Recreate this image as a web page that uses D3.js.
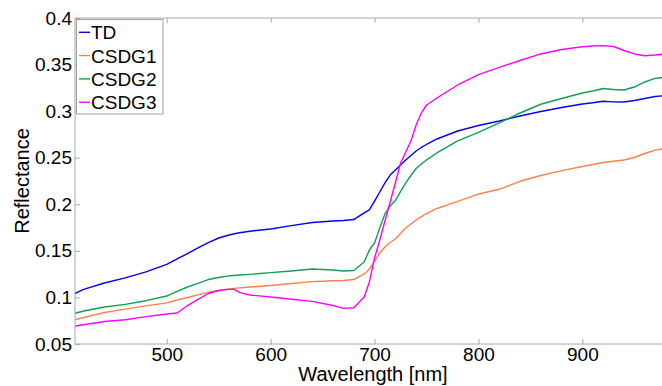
<!DOCTYPE html>
<html>
<head>
<meta charset="utf-8">
<script src="https://cdn.jsdelivr.net/npm/d3@7"></script>
<style>
  html, body { margin: 0; padding: 0; background: #fff; }
  svg { display: block; font-family: "Liberation Sans", Arial, sans-serif; }
</style>
</head>
<body>
<svg id="chart" width="662" height="386"></svg>
<script>
const wavelengths = [412,420,440,460,480,500,510,520,530,540,550,560,565,570,580,600,620,640,660,670,680,690,695,700,705,710,715,720,725,730,735,740,745,750,760,780,800,820,840,860,880,900,910,920,930,940,950,960,970,980];

const TD    = [0.1044,0.1087,0.1155,0.1210,0.1275,0.1354,0.1413,0.1471,0.1531,0.1588,0.1638,0.1670,0.1684,0.1694,0.1711,0.1735,0.1771,0.1804,0.1821,0.1826,0.1836,0.1907,0.1939,0.2035,0.2132,0.2229,0.2314,0.2368,0.2422,0.2476,0.2524,0.2572,0.2610,0.2642,0.2701,0.2787,0.2846,0.2894,0.2948,0.2996,0.3039,0.3077,0.3090,0.3106,0.3100,0.3098,0.3114,0.3136,0.3157,0.3168];
const CSDG1 = [0.0761,0.0785,0.0838,0.0874,0.0909,0.0942,0.0972,0.0999,0.1028,0.1055,0.1074,0.1092,0.1097,0.1103,0.1112,0.1128,0.1150,0.1170,0.1179,0.1181,0.1192,0.1252,0.1305,0.1391,0.1477,0.1541,0.1590,0.1627,0.1686,0.1745,0.1788,0.1831,0.1867,0.1901,0.1955,0.2032,0.2110,0.2161,0.2247,0.2309,0.2361,0.2406,0.2427,0.2449,0.2462,0.2476,0.2502,0.2545,0.2581,0.2599];
const CSDG2 = [0.0830,0.0854,0.0897,0.0926,0.0965,0.1015,0.1064,0.1112,0.1150,0.1192,0.1214,0.1232,0.1236,0.1241,0.1248,0.1266,0.1284,0.1305,0.1295,0.1284,0.1289,0.1380,0.1509,0.1584,0.1745,0.1896,0.1982,0.2041,0.2137,0.2229,0.2309,0.2384,0.2433,0.2476,0.2551,0.2680,0.2773,0.2873,0.2980,0.3074,0.3136,0.3195,0.3216,0.3243,0.3232,0.3227,0.3259,0.3313,0.3351,0.3367];
const CSDG3 = [0.0693,0.0706,0.0742,0.0761,0.0794,0.0822,0.0833,0.0913,0.0978,0.1042,0.1074,0.1087,0.1087,0.1055,0.1026,0.1005,0.0981,0.0958,0.0913,0.0883,0.0889,0.1005,0.1166,0.1423,0.1617,0.1821,0.2025,0.2229,0.2443,0.2561,0.2680,0.2851,0.2980,0.3066,0.3141,0.3281,0.3393,0.3469,0.3544,0.3614,0.3662,0.3692,0.3700,0.3703,0.3694,0.3651,0.3614,0.3595,0.3603,0.3614];

const seriesNames = ["TD","CSDG1","CSDG2","CSDG3"];
const seriesValues = [TD, CSDG1, CSDG2, CSDG3];
const seriesColors = ["#0000ff","#ff7f50","#10a050","#ff00ff"];

const xTicks = [500,600,700,800,900];
const yTicks = [0.05,0.1,0.15,0.2,0.25,0.3,0.35,0.4];
const yTickLabels = ["0.05","0.1","0.15","0.2","0.25","0.3","0.35","0.4"];
const xLabel = "Wavelength [nm]";
const yLabel = "Reflectance";

const svg = d3.select("#chart");
const L = 75, T = 18, B = 344, R = 665.5;
const x = d3.scaleLinear().domain([411.7, 980]).range([L, R]);
const y = d3.scaleLinear().domain([0.05, 0.4]).range([B, T]);
const axisColor = "#a8a8a8";
const fs = 19;

svg.append("defs").append("clipPath").attr("id","clip")
  .append("rect").attr("x", L).attr("y", T).attr("width", R - L).attr("height", B - T);

// frame
svg.append("line").attr("x1", L).attr("x2", R).attr("y1", T).attr("y2", T).attr("stroke", axisColor);
svg.append("line").attr("x1", L).attr("x2", R).attr("y1", B).attr("y2", B).attr("stroke", axisColor);
svg.append("line").attr("x1", L).attr("x2", L).attr("y1", T).attr("y2", B).attr("stroke", axisColor);

// x axis (bottom, inward ticks)
const xAxis = d3.axisBottom(x).tickValues(xTicks).tickSizeInner(-5).tickSizeOuter(0).tickPadding(3).tickFormat(d3.format("d"));
const gx = svg.append("g").attr("transform", `translate(0,${B})`).call(xAxis);
gx.select(".domain").remove();
gx.selectAll(".tick line").attr("stroke", axisColor);
gx.selectAll(".tick text").attr("font-size", fs).attr("fill", "#000").attr("font-family", "Liberation Sans, Arial, sans-serif").attr("dy", "0.71em");

// top ticks
const xTop = d3.axisTop(x).tickValues(xTicks).tickSizeInner(-5).tickSizeOuter(0).tickFormat("");
const gt = svg.append("g").attr("transform", `translate(0,${T})`).call(xTop);
gt.select(".domain").remove();
gt.selectAll(".tick line").attr("stroke", axisColor);

// y axis
const yAxis = d3.axisLeft(y).tickValues(yTicks).tickSizeInner(-5).tickSizeOuter(0).tickPadding(3)
  .tickFormat((d, i) => yTickLabels[i]);
const gy = svg.append("g").attr("transform", `translate(${L},0)`).call(yAxis);
gy.select(".domain").remove();
gy.selectAll(".tick line").attr("stroke", axisColor);
gy.selectAll(".tick text").attr("font-size", fs).attr("fill", "#000").attr("font-family", "Liberation Sans, Arial, sans-serif");

// lines
const line = d3.line().x((d, i) => x(wavelengths[i])).y(d => y(d));
const gl = svg.append("g").attr("clip-path", "url(#clip)");
seriesValues.forEach((vals, k) => {
  gl.append("path").datum(vals).attr("d", line).attr("fill", "none")
    .attr("stroke", seriesColors[k]).attr("stroke-width", 1.4).attr("stroke-linejoin", "round");
});

// axis labels
svg.append("text").attr("x", 373).attr("y", 381).attr("text-anchor", "middle")
  .attr("font-size", 20).text(xLabel);
svg.append("text").attr("transform", "translate(29,181) rotate(-90)").attr("text-anchor", "middle")
  .attr("font-size", 20).text(yLabel);

// legend
const lg = svg.append("g");
lg.append("rect").attr("x", 76.5).attr("y", 19.5).attr("width", 86.5).attr("height", 94.5)
  .attr("fill", "#fff").attr("stroke", "#a0a0a0");
seriesNames.forEach((name, k) => {
  const cy = 32.3 + k * 23.3;
  lg.append("line").attr("x1", 79).attr("x2", 90).attr("y1", cy).attr("y2", cy)
    .attr("stroke", seriesColors[k]).attr("stroke-width", 1.4);
  lg.append("text").attr("x", 91).attr("y", cy + 7).attr("font-size", fs).text(name);
});
</script>
</body>
</html>
